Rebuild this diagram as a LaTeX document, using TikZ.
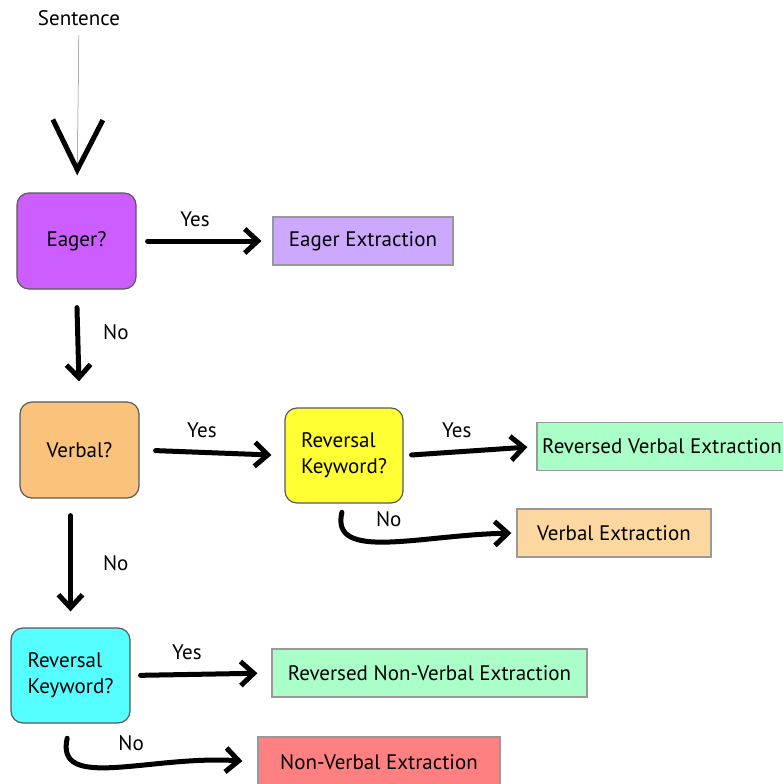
\documentclass[tikz,border=0pt]{standalone}
\usepackage{fontspec}
\setmainfont{PT Sans}
\usetikzlibrary{arrows.meta}

\definecolor{eagerpurple}{HTML}{CC5EFF}
\definecolor{eagerlight}{HTML}{CCA8FF}
\definecolor{verbalorange}{HTML}{FAC27A}
\definecolor{verballight}{HTML}{FCD8A0}
\definecolor{keyyellow}{HTML}{FFFF33}
\definecolor{keycyan}{HTML}{55FFFF}
\definecolor{revgreen}{HTML}{AAFFC8}
\definecolor{nonred}{HTML}{FF8080}

\tikzset{x=1pt, y=-1pt}
\tikzset{
  ask/.style={draw=black!65, line width=1.2pt, rounded corners=12pt,
    minimum width=119pt, minimum height=96pt, align=left},
  result/.style={draw=black!40, line width=1.2pt, minimum height=48pt},
  brush/.style={line width=5pt, line cap=round,
    -{Straight Barb[length=13pt, width=24pt, line width=5pt]}},
  lbl/.style={inner sep=0pt}
}

\begin{document}
\begin{tikzpicture}[font=\fontsize{21}{26}\selectfont]
\useasboundingbox (0,0) rectangle (783,784);

% the input
\node (sentence) at (79,18) {Sentence};

% decision boxes
\node[ask, fill=eagerpurple] (eager) at (76.5,241) {Eager?};
\node[ask, fill=verbalorange] (verbal) at (79.5,450) {Verbal?};
\node[ask, fill=keyyellow, minimum width=118pt, minimum height=95pt] (keyverbal) at (344,455.5) {Reversal\\Keyword?};
\node[ask, fill=keycyan, minimum height=95pt] (keynon) at (70.5,675.5) {Reversal\\Keyword?};

% the extractions
\node[result, fill=eagerlight, minimum width=180pt] (eagerx) at (363,241) {Eager Extraction};
\node[result, fill=revgreen, minimum width=250pt] (revverbalx) at (662,446.5) {Reversed Verbal Extraction};
\node[result, fill=verballight, minimum width=194pt] (verbalx) at (614,533) {Verbal Extraction};
\node[result, fill=revgreen, minimum width=315pt] (revnonx) at (429.5,673) {Reversed Non-Verbal Extraction};
\node[result, fill=nonred, minimum width=242pt, minimum height=50pt] (nonx) at (379,762) {Non-Verbal Extraction};

% sentence goes in
\draw[black!50, line width=0.5pt, shorten <=6pt, shorten >=17pt,
  -{Straight Barb[length=50pt, width=50pt, line width=5pt, color=black]}]
  (sentence) -- (eager);

% yes branches
\draw[brush, shorten <=11pt, shorten >=11pt] (eager.east) -- node[lbl, pos=0.43, above=12pt] {Yes} (eagerx.west);
\draw[brush, shorten <=16pt, shorten >=13pt] (verbal.east) -- node[lbl, pos=0.43, above=12pt] {Yes} (keyverbal.west);
\draw[brush, shorten <=8pt, shorten >=9pt] (keyverbal.east) -- node[lbl, pos=0.4, above=12pt] {Yes} (revverbalx.west);
\draw[brush, shorten <=10pt, shorten >=14pt] (keynon.east) -- node[lbl, pos=0.4, above=12pt] {Yes} (revnonx.west);

% no branches
\draw[brush, shorten <=18pt, shorten >=20pt] (eager.south) -- node[lbl, pos=0.38, right=23pt] {No} (verbal.north);
\draw[brush, shorten <=17pt, shorten >=16pt] (verbal.south -| keynon) -- node[lbl, pos=0.5, right=30pt] {No} (keynon.north);
\draw[brush, shorten <=9pt, shorten >=5pt] (keyverbal.south) .. controls (330,562) and (420,535) .. node[lbl, pos=0.5, above=12pt] {No} (verbalx.west);
\draw[brush, shorten <=15pt, shorten >=15pt] (keynon.south) .. controls (55,792) and (150,755) .. node[lbl, pos=0.56, above=12pt] {No} (nonx.west);
\end{tikzpicture}
\end{document}
